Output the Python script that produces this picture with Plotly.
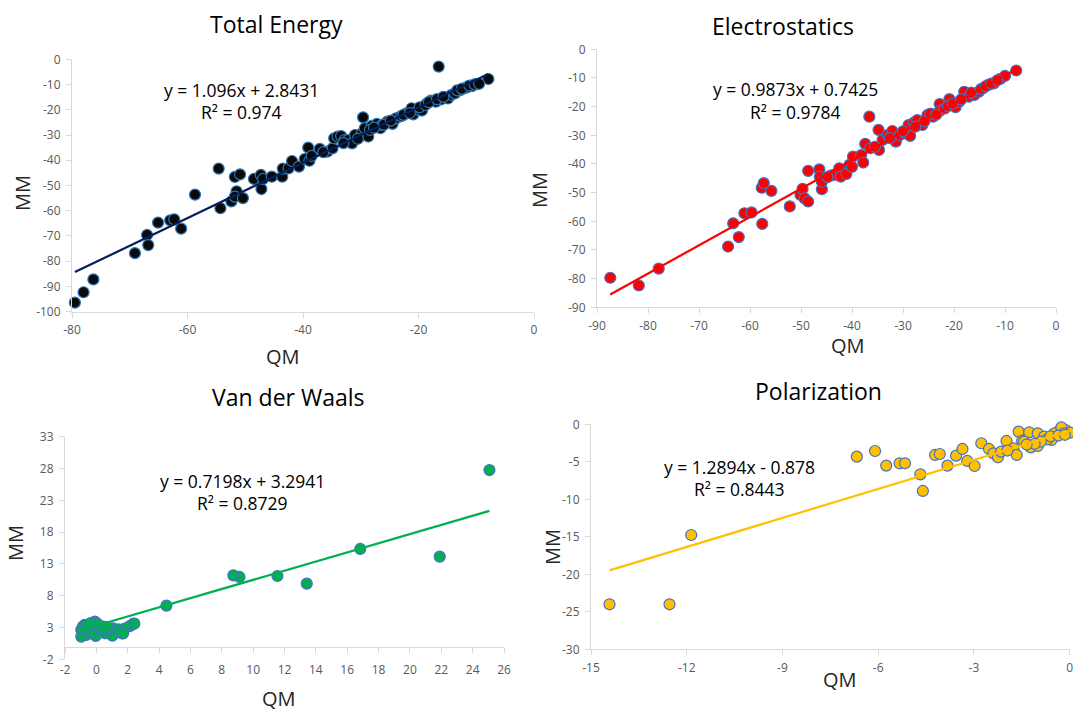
import plotly.graph_objects as go

# ---------------- DATA ----------------
te_qm = [-79.5, -78.0, -76.3, -69.1, -67.0, -66.8, -65.1, -63.0, -62.3, -61.1, -58.7, -54.6, -54.3, -52.4,
         -51.8, -51.5, -51.8, -50.9, -50.4, -48.5, -47.3, -47.2, -46.9, -45.4, -43.6, -43.5, -42.5, -41.9,
         -40.7, -39.7, -39.1, -38.9, -38.5, -37.1, -35.8, -34.9, -34.6, -34.0, -33.4, -32.8, -32.2, -31.5,
         -31.0, -30.1, -29.6, -29.8, -29.3, -28.7, -28.1, -27.2, -26.6, -26.3, -25.4, -24.5, -23.9, -23.0,
         -22.1, -21.2, -20.9, -20.0, -19.4, -18.5, -17.9, -17.0, -16.5, -16.1, -15.2, -14.9, -14.3, -13.7,
         -12.8, -12.2, -11.6, -10.7, -9.9, -7.9,
         -36.5, -33.0, -30.5, -28.4, -27.7, -26.0, -24.8, -22.6, -21.5, -19.8, -18.8, -18.2, -16.8, -15.7,
         -13.3, -12.5, -11.2, -10.3, -9.5]
te_mm = [-96.4, -92.3, -87.2, -76.8, -69.6, -73.6, -64.7, -63.8, -63.4, -67.1, -53.6, -43.3, -59.0, -56.3,
         -46.6, -52.3, -54.4, -45.6, -55.0, -47.4, -45.8, -51.4, -47.4, -46.5, -46.5, -43.3, -43.2, -40.3,
         -42.5, -39.5, -35.0, -40.2, -38.3, -35.5, -36.6, -35.3, -31.3, -30.6, -30.4, -32.0, -32.0, -33.3,
         -30.0, -30.6, -23.0, -29.3, -27.3, -30.6, -26.4, -25.6, -27.3, -26.0, -24.7, -25.6, -23.4, -22.5,
         -21.4, -19.4, -21.8, -20.1, -20.3, -17.4, -16.4, -16.8, -2.9, -15.9, -15.1, -15.5, -14.1, -13.5,
         -12.2, -11.5, -11.1, -10.6, -9.8, -7.8,
         -36.8, -33.2, -31.5, -28.0, -27.1, -25.9, -24.3, -22.0, -21.3, -19.0, -18.1, -17.0, -15.8, -14.9,
         -12.3, -11.7, -10.4, -9.9, -9.7]

es_qm = [-87.4, -81.8, -77.9, -64.3, -63.3, -62.2, -61.1, -59.7, -57.7, -57.3, -57.6, -55.8, -52.2, -50.1,
         -49.7, -49.3, -48.6, -48.6, -46.4, -46.3, -45.9, -45.9, -44.2, -43.5, -42.5, -42.2, -41.1, -40.5,
         -39.8, -38.2, -37.8, -37.4, -36.6, -36.4, -34.8, -34.7, -34.0, -33.0, -32.1, -31.4, -30.6, -29.6,
         -28.6, -28.9, -27.9, -27.2, -26.2, -25.2, -24.1, -22.8, -22.8, -21.8, -20.9, -19.7, -19.0, -18.0,
         -17.1, -16.0, -15.1, -14.3, -13.3, -12.2, -10.9, -10.0, -7.8,
         -44.8, -40.0, -35.5, -32.6, -30.0, -27.6, -25.8, -24.6, -23.5, -21.2, -20.3, -18.6, -16.6, -14.7,
         -13.8, -12.7, -11.5]
es_mm = [-79.7, -82.4, -76.5, -68.8, -60.7, -65.5, -57.2, -56.9, -48.3, -46.7, -60.9, -49.4, -54.8, -50.8,
         -48.7, -52.0, -53.1, -42.4, -41.9, -44.4, -48.8, -46.2, -44.1, -43.8, -41.5, -44.4, -43.5, -40.3,
         -37.4, -36.9, -39.5, -33.0, -23.5, -34.5, -28.1, -35.1, -31.6, -29.9, -28.5, -32.2, -29.9, -29.3,
         -30.2, -26.4, -25.6, -24.7, -26.4, -22.9, -23.5, -19.1, -21.5, -20.6, -17.4, -20.2, -18.3, -14.8,
         -16.5, -15.9, -14.8, -13.6, -12.4, -11.9, -10.3, -9.3, -7.4,
         -44.6, -41.0, -34.0, -31.0, -28.6, -27.0, -25.1, -22.4, -22.8, -19.8, -19.0, -17.5, -15.1, -13.9,
         -12.9, -12.0, -10.8]

vdw_qm = [25.07, 21.9, 16.83, 13.42, 11.55, 9.13, 8.74, 4.47, 2.34, 2.16, 1.62, 1.84, 1.08, 1.02, 0.76, 0.55,
          0.0, -0.04, -0.1, -0.38, -0.64, -0.75, -0.96, -0.96, -0.86, -0.53, -0.25, 0.22, 0.44, -0.88, -0.67,
          -0.36, 0.06, 0.38, 0.69, 1.43, 1.70, 2.42]
vdw_mm = [27.76, 14.14, 15.35, 9.9, 11.1, 10.95, 11.2, 6.44, 3.56, 3.25, 2.09, 2.88, 2.88, 1.73, 2.62, 2.09,
          3.56, 1.68, 3.93, 3.14, 1.83, 3.40, 1.57, 2.62, 3.14, 2.62, 2.36, 2.88, 3.14, 2.7, 3.16,
          3.7, 3.6, 2.7, 3.05, 2.7, 2.07, 3.6]

pol_qm = [-14.42, -12.54, -11.86, -6.67, -6.10, -5.75, -5.33, -5.16, -4.68, -4.60, -4.22, -4.07, -3.83, -3.56,
          -3.36, -3.21, -2.98, -2.77, -2.53, -2.39, -2.25, -2.15, -1.98, -1.76, -1.66, -1.60, -1.49, -1.27,
          -1.22, -1.00, -1.00, -0.73, -0.57, -0.40, -0.29, -0.13, 0.0, -1.95, -1.43, -0.80, -0.70, -0.48,
          -0.26, -0.18, -0.90, -0.60, -0.35, -0.15, -1.10, -1.35]
pol_mm = [-24.0, -24.0, -14.76, -4.31, -3.56, -5.51, -5.2, -5.2, -6.67, -8.89, -4.09, -3.96, -5.51, -4.18,
          -3.29, -4.89, -5.56, -2.53, -3.29, -3.87, -4.4, -3.64, -2.22, -3.2, -4.09, -0.98, -2.22, -1.07,
          -3.07, -1.2, -2.89, -1.87, -2.09, -1.2, -0.67, -0.76, -1.11, -3.5, -2.31, -1.65, -2.0, -1.2,
          -0.4, -1.2, -2.3, -1.6, -1.5, -1.4, -2.6, -2.7]

titles = ["Total Energy", "Electrostatics", "Van der Waals", "Polarization"]
slopes = [1.096, 0.9873, 0.7198, 1.2894]
intercepts = [2.8431, 0.7425, 3.2941, -0.878]
eq_text = ["y = 1.096x + 2.8431", "y = 0.9873x + 0.7425", "y = 0.7198x + 3.2941", "y = 1.2894x - 0.878"]
r2_text = ["R² = 0.974", "R² = 0.9784", "R² = 0.8729", "R² = 0.8443"]

x_ticks = [[-80, -60, -40, -20, 0],
           [-90, -80, -70, -60, -50, -40, -30, -20, -10, 0],
           [-2, 0, 2, 4, 6, 8, 10, 12, 14, 16, 18, 20, 22, 24, 26],
           [-15, -12, -9, -6, -3, 0]]
y_ticks = [[-100, -90, -80, -70, -60, -50, -40, -30, -20, -10, 0],
           [-90, -80, -70, -60, -50, -40, -30, -20, -10, 0],
           [-2, 3, 8, 13, 18, 23, 28, 33],
           [-30, -25, -20, -15, -10, -5, 0]]

# ---------------- STYLE / LAYOUT ----------------
W, H = 1073, 712
def fx(p):
    return p / W
def fy(p):
    return 1 - p / H

datasets = [(te_qm, te_mm), (es_qm, es_mm), (vdw_qm, vdw_mm), (pol_qm, pol_mm)]
fills = ["#0a0a0a", "#ff0000", "#00b050", "#ffc000"]
edges = ["#2e75b6", "#4472c4", "#4472c4", "#4472c4"]
line_colors = ["#002060", "#ff0000", "#00b050", "#ffc000"]

# pixel boxes: (left, right, top, bottom)
boxes = [(72, 534, 59.3, 311.7), (597, 1056, 49.3, 307.3), (65, 504, 436.7, 659.3), (591, 1069.7, 424.3, 649.3)]
title_pos = [(276, 24), (783, 26), (288, 397), (818, 391)]
eq_pos = [(241, 90, 112), (795, 89, 112), (243, 481, 503), (739, 467, 489)]
qm_pos = [(283, 356), (848, 345), (279, 698), (840, 679)]
mm_pos = [(22, 193), (540, 190), (15, 543), (552, 547)]

marker_traces = []
line_traces = []
annotations = []
layout_axes = {}
axis_common = dict(showgrid=False, showline=True, linecolor="#d9d9d9", linewidth=1,
                   ticks="outside", ticklen=5, tickcolor="#d9d9d9", tickwidth=1,
                   tickfont=dict(family="Open Sans", size=12, color="#595959"), fixedrange=True,
                   ticklabeloverflow="allow")

for i, (qm, mm) in enumerate(datasets):
    sfx = "" if i == 0 else str(i + 1)
    xa, ya = "x" + sfx, "y" + sfx
    xmin, xmax = min(qm), max(qm)
    line_traces.append(go.Scatter(
        x=[xmin, xmax], y=[slopes[i] * xmin + intercepts[i], slopes[i] * xmax + intercepts[i]],
        mode="lines", line=dict(color=line_colors[i], width=2.2), xaxis=xa, yaxis=ya,
        hoverinfo="skip", showlegend=False, cliponaxis=False))
    marker_traces.append(go.Scatter(
        x=qm, y=mm, mode="markers", xaxis=xa, yaxis=ya, showlegend=False, cliponaxis=False,
        marker=dict(size=11, color=fills[i], line=dict(color=edges[i], width=1.2))))
    l, r, t, b = boxes[i]
    xt, yt = x_ticks[i], y_ticks[i]
    xcfg = dict(axis_common, domain=[fx(l), fx(r)], range=[xt[0], xt[-1]], tickmode="array",
                tickvals=xt, ticktext=[str(v) for v in xt], anchor=ya, zeroline=False,
                ticklabelstandoff=2)
    ycfg = dict(axis_common, domain=[fy(b), fy(t)], range=[yt[0], yt[-1]], tickmode="array",
                tickvals=yt, ticktext=[str(v) for v in yt], anchor=xa, zeroline=False,
                ticklabelstandoff=3)
    if i == 2:
        # labels stay at the bottom; the axis line with its tick marks crosses at y = 0
        xcfg.update(showline=False, ticks="")
        y0_px = b - (0 - yt[0]) / (yt[-1] - yt[0]) * (b - t)
        layout_axes["xaxis5"] = dict(axis_common, overlaying="x3", matches="x3", anchor="free",
                                     position=fy(y0_px), domain=[fx(l), fx(r)], range=[xt[0], xt[-1]],
                                     tickmode="array", tickvals=xt, showticklabels=False,
                                     zeroline=False, side="bottom")
    layout_axes["xaxis" + sfx] = xcfg
    layout_axes["yaxis" + sfx] = ycfg

    tx, ty = title_pos[i]
    annotations.append(dict(text=titles[i], x=fx(tx), y=fy(ty), xref="paper", yref="paper",
                            showarrow=False, xanchor="center", yanchor="middle",
                            font=dict(family="Open Sans", size=23, color="#000000")))
    ex, ey1, ey2 = eq_pos[i]
    for txt, ey in ((eq_text[i], ey1), (r2_text[i], ey2)):
        annotations.append(dict(text=txt, x=fx(ex), y=fy(ey), xref="paper", yref="paper",
                                showarrow=False, xanchor="center", yanchor="middle",
                                font=dict(family="Open Sans", size=17.5, color="#000000")))
    qx, qy = qm_pos[i]
    annotations.append(dict(text="QM", x=fx(qx), y=fy(qy), xref="paper", yref="paper",
                            showarrow=False, xanchor="center", yanchor="middle",
                            font=dict(family="Open Sans", size=20, color="#262626")))
    mx, my = mm_pos[i]
    annotations.append(dict(text="MM", x=fx(mx), y=fy(my), xref="paper", yref="paper",
                            showarrow=False, xanchor="center", yanchor="middle", textangle=-90,
                            font=dict(family="Open Sans", size=20, color="#262626")))

helper = go.Scatter(x=[None], y=[None], xaxis="x5", yaxis="y3", showlegend=False, hoverinfo="skip")
fig = go.Figure(data=[helper] + marker_traces + line_traces)
fig.update_layout(width=W, height=H, margin=dict(l=0, r=0, t=0, b=0, autoexpand=False),
                  paper_bgcolor="white", plot_bgcolor="white", annotations=annotations,
                  **layout_axes)

fig.write_html("out.html", config={"displayModeBar": False},
               post_script="document.body.style.margin='0';document.body.style.overflow='hidden';")
